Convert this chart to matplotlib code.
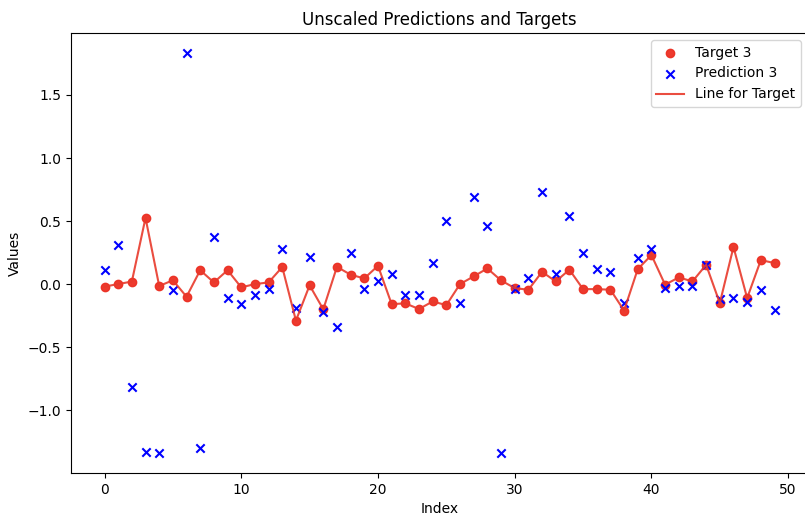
import matplotlib
matplotlib.use("Agg")
import matplotlib.pyplot as plt
import numpy as np

index = np.arange(50)
target = [-0.02, 0.0, 0.02, 0.525, -0.015, 0.03, -0.10, 0.11, 0.013, 0.11,
          -0.026, 0.0, 0.013, 0.135, -0.29, -0.01, -0.20, 0.137, 0.074, 0.045,
          0.145, -0.159, -0.153, -0.198, -0.138, -0.167, 0.0, 0.061, 0.124, 0.029,
          -0.032, -0.045, 0.097, 0.021, 0.114, -0.04, -0.04, -0.045, -0.21, 0.119,
          0.23, -0.005, 0.053, 0.021, 0.153, -0.151, 0.294, -0.111, 0.19, 0.167]
prediction = [0.11, 0.307, -0.82, -1.33, -1.34, -0.048, 1.833, -1.30, 0.37, -0.11,
              -0.16, -0.085, -0.04, 0.278, -0.19, 0.217, -0.225, -0.344, 0.243, -0.04,
              0.026, 0.082, -0.085, -0.085, 0.167, 0.5, -0.151, 0.693, 0.46, -1.34,
              -0.04, 0.045, 0.733, 0.079, 0.542, 0.246, 0.119, 0.098, -0.151, 0.204,
              0.278, -0.034, -0.013, -0.013, 0.151, -0.119, -0.114, -0.145, -0.045, -0.206]

fig = plt.figure(figsize=(8.05, 5.18), dpi=100)
ax = fig.add_axes([71/805, (518-473)/518, (808-71)/805, (473-33)/518])
ax.scatter(index, target, color='#ec2f22', alpha=0.95, label='Target 3')
ax.scatter(index, prediction, color='blue', marker='x', label='Prediction 3')
ax.plot(index, target, color='#e8392b', alpha=0.9, label='Line for Target')
ax.set_title('Unscaled Predictions and Targets')
ax.set_xlabel('Index')
ax.set_ylabel('Values')
ax.legend(loc='upper right')
fig.savefig('out.png', dpi=100)
